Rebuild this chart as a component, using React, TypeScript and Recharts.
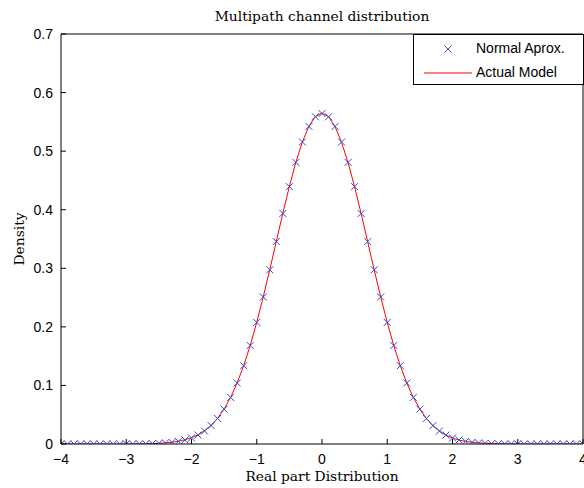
import React from "react";
import {
  ComposedChart,
  Line,
  Scatter,
  XAxis,
  YAxis,
} from "recharts";

// Sample points along the real axis
const X_VALUES = [
  -4.0, -3.9, -3.8, -3.7, -3.6, -3.5, -3.4, -3.3, -3.2, -3.1,
  -3.0, -2.9, -2.8, -2.7, -2.6, -2.5, -2.4, -2.3, -2.2, -2.1,
  -2.0, -1.9, -1.8, -1.7, -1.6, -1.5, -1.4, -1.3, -1.2, -1.1,
  -1.0, -0.9, -0.8, -0.7, -0.6, -0.5, -0.4, -0.3, -0.2, -0.1,
  0.0, 0.1, 0.2, 0.3, 0.4, 0.5, 0.6, 0.7, 0.8, 0.9,
  1.0, 1.1, 1.2, 1.3, 1.4, 1.5, 1.6, 1.7, 1.8, 1.9,
  2.0, 2.1, 2.2, 2.3, 2.4, 2.5, 2.6, 2.7, 2.8, 2.9,
  3.0, 3.1, 3.2, 3.3, 3.4, 3.5, 3.6, 3.7, 3.8, 3.9,
  4.0,
];

// "Normal Aprox." markers
const NORMAL_APROX = [
  0, 0, 0, 0, 0, 0, 0, 0, 0, 0,
  0.0001, 0.0001, 0.0002, 0.0004, 0.0007, 0.0011, 0.0018, 0.0028, 0.0045, 0.0069,
  0.0103, 0.0153, 0.0221, 0.0314, 0.0436, 0.0595, 0.0795, 0.1041, 0.1337, 0.1682,
  0.2076, 0.251, 0.2975, 0.3456, 0.3936, 0.4394, 0.4808, 0.5156, 0.5421, 0.5586,
  0.5642, 0.5586, 0.5421, 0.5156, 0.4808, 0.4394, 0.3936, 0.3456, 0.2975, 0.251,
  0.2076, 0.1682, 0.1337, 0.1041, 0.0795, 0.0595, 0.0436, 0.0314, 0.0221, 0.0153,
  0.0103, 0.0069, 0.0045, 0.0028, 0.0018, 0.0011, 0.0007, 0.0004, 0.0002, 0.0001,
  0.0001, 0, 0, 0, 0, 0, 0, 0, 0, 0,
  0,
];

// "Actual Model" curve
const ACTUAL_MODEL = [
  0, 0, 0, 0, 0, 0, 0, 0, 0, 0,
  0.0001, 0.0001, 0.0002, 0.0004, 0.0007, 0.0012, 0.0019, 0.003, 0.0047, 0.0072,
  0.0107, 0.0157, 0.0226, 0.0318, 0.044, 0.0598, 0.0797, 0.1043, 0.1338, 0.1683,
  0.2078, 0.2513, 0.2978, 0.346, 0.394, 0.4398, 0.4813, 0.516, 0.5425, 0.5595,
  0.5648, 0.5592, 0.5418, 0.515, 0.4802, 0.439, 0.3932, 0.3452, 0.2972, 0.2508,
  0.2074, 0.168, 0.1335, 0.104, 0.0794, 0.0594, 0.0435, 0.0313, 0.022, 0.0152,
  0.0102, 0.0068, 0.0044, 0.0028, 0.0018, 0.0011, 0.0007, 0.0004, 0.0002, 0.0001,
  0.0001, 0, 0, 0, 0, 0, 0, 0, 0, 0,
  0,
];

const X_TICKS = [-4, -3, -2, -1, 0, 1, 2, 3, 4];
const Y_TICKS = [0, 0.1, 0.2, 0.3, 0.4, 0.5, 0.6, 0.7];

const BLUE = "#2f4fcc";
const RED = "#ff0000";
const SANS = "'Liberation Sans', Arial, sans-serif";
const SERIF = "'DejaVu Serif', serif";

const data = X_VALUES.map((x, i) => ({
  x,
  normal: NORMAL_APROX[i],
  model: ACTUAL_MODEL[i],
}));

const fmtX = (v: number) => (v < 0 ? "\u2212" + Math.abs(v) : String(v));

// bottom tick: inward tick mark + label below
const XTick = (props: any) => {
  const { x, y, payload } = props;
  const ay = y - 10;
  return (
    <g>
      <line x1={x} x2={x} y1={ay} y2={ay - 5} stroke="#000" />
      <text x={x} y={y} dy="0.71em" textAnchor="middle" fontSize={14} fontFamily={SANS} fill="#000">
        {fmtX(payload.value)}
      </text>
    </g>
  );
};

// left tick: inward tick mark + label to the left
const YTick = (props: any) => {
  const { x, y, payload } = props;
  const ax = x + 8;
  return (
    <g>
      <line x1={ax} x2={ax + 5} y1={y} y2={y} stroke="#000" />
      <text x={x} y={y} dy="0.355em" textAnchor="end" fontSize={14} fontFamily={SANS} fill="#000">
        {String(payload.value)}
      </text>
    </g>
  );
};

const Cross = (props: any) => {
  const { cx, cy } = props;
  if (cx == null || cy == null) return null;
  const r = 3.5;
  return (
    <path
      d={`M${cx - r},${cy - r}L${cx + r},${cy + r}M${cx - r},${cy + r}L${cx + r},${cy - r}`}
      stroke={BLUE}
      strokeWidth={1}
      fill="none"
    />
  );
};

const LegendBox = () => (
  <div
    style={{
      position: "absolute",
      left: 413,
      top: 34,
      width: 169,
      height: 49,
      border: "1px solid #000",
      background: "#fff",
      fontFamily: SANS,
      fontSize: 14,
      color: "#000",
    }}
  >
    <svg width={60} height={49} style={{ position: "absolute", left: 0, top: 0 }}>
      <path d="M30.5,10.5L37.5,17.5M30.5,17.5L37.5,10.5" stroke={BLUE} fill="none" />
      <line x1={10} x2={58} y1={38} y2={38} stroke={RED} />
    </svg>
    <div style={{ position: "absolute", left: 62, top: 5 }}>Normal Aprox.</div>
    <div style={{ position: "absolute", left: 62, top: 29 }}>Actual Model</div>
  </div>
);

const labelStyle: React.CSSProperties = {
  position: "absolute",
  fontFamily: SERIF,
  fontSize: 13.8,
  whiteSpace: "nowrap",
  color: "#000",
};

export default function App() {
  return (
    <div style={{ position: "absolute", left: 0, top: 0, width: 584, height: 488, background: "#fff" }}>
      <ComposedChart
        width={584}
        height={488}
        data={data}
        margin={{ top: 34, right: 1, bottom: 0, left: 0 }}
      >
        <XAxis
          xAxisId="b"
          dataKey="x"
          type="number"
          domain={[-4, 4]}
          ticks={X_TICKS}
          allowDataOverflow
          height={44}
          tickSize={0}
          tickMargin={10}
          tickLine={false}
          axisLine={{ stroke: "#000" }}
          tick={<XTick />}
          interval={0}
        />
        {/* frame top, ticks pointing inward */}
        <XAxis
          xAxisId="t"
          orientation="top"
          type="number"
          domain={[-4, 4]}
          ticks={X_TICKS}
          allowDataOverflow
          mirror
          height={5}
          tickSize={5}
          tick={false}
          tickLine={{ stroke: "#000" }}
          axisLine={{ stroke: "#000" }}
          interval={0}
        />
        <YAxis
          yAxisId="l"
          type="number"
          domain={[0, 0.7]}
          ticks={Y_TICKS}
          allowDataOverflow
          width={61}
          tickSize={0}
          tickMargin={8}
          tickLine={false}
          axisLine={{ stroke: "#000" }}
          tick={<YTick />}
          interval={0}
        />
        {/* frame right, ticks pointing inward */}
        <YAxis
          yAxisId="r"
          orientation="right"
          type="number"
          domain={[0, 0.7]}
          ticks={Y_TICKS}
          allowDataOverflow
          mirror
          width={5}
          tickSize={5}
          tick={false}
          tickLine={{ stroke: "#000" }}
          axisLine={{ stroke: "#000" }}
          interval={0}
        />
        <Scatter
          xAxisId="b"
          yAxisId="l"
          name="Normal Aprox."
          dataKey="normal"
          shape={<Cross />}
          isAnimationActive={false}
        />
        <Line
          xAxisId="b"
          yAxisId="l"
          name="Actual Model"
          dataKey="model"
          type="linear"
          dot={false}
          stroke={RED}
          strokeWidth={1}
          isAnimationActive={false}
        />
      </ComposedChart>
      <LegendBox />
      <div style={{ ...labelStyle, left: 61, width: 522, top: 8, textAlign: "center" }}>
        Multipath channel distribution
      </div>
      <div style={{ ...labelStyle, left: 61, width: 522, top: 468, textAlign: "center" }}>
        Real part Distribution
      </div>
      <div
        style={{
          ...labelStyle,
          left: 19,
          top: 239,
          transform: "translate(-50%, -50%) rotate(-90deg)",
        }}
      >
        Density
      </div>
    </div>
  );
}
